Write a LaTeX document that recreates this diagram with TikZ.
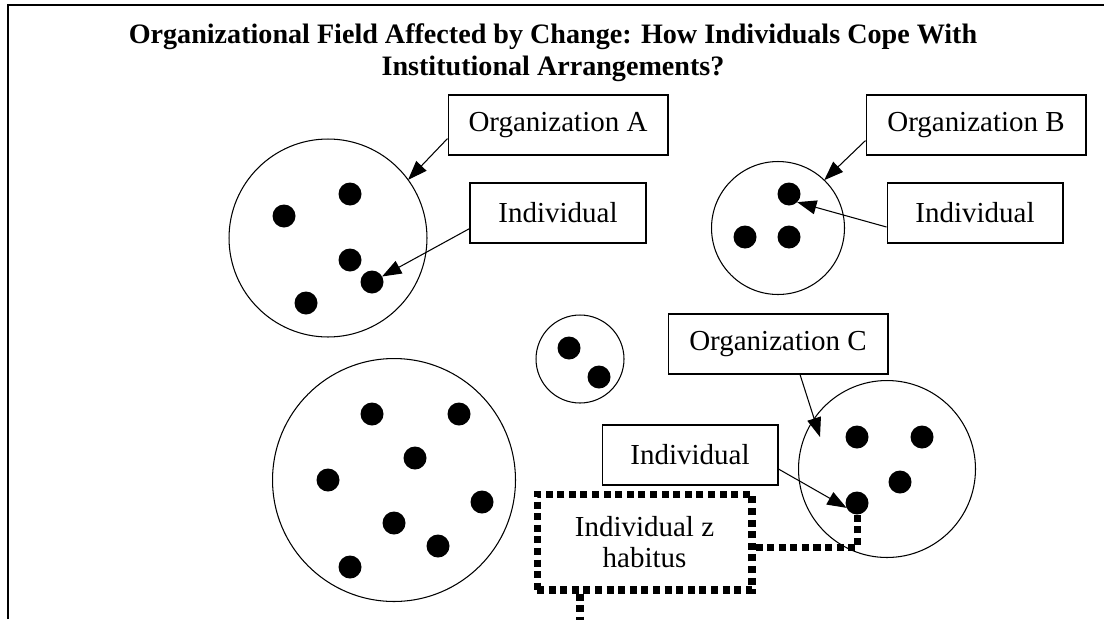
\documentclass[tikz,border=0pt]{standalone}
\usepackage{fontspec}
\setmainfont{Liberation Serif}
\usetikzlibrary{arrows.meta}
\begin{document}
\begin{tikzpicture}[x=0.02cm,y=-0.02cm,
	orgcircle/.style={draw,circle,line width=0.6pt,inner sep=0pt,outer sep=0pt},
	dot/.style={fill,circle,inner sep=0pt,outer sep=0pt,minimum size=0.46cm},
	labelbox/.style={draw,line width=0.6pt,minimum height=1.2cm,font=\fontsize{16.5}{18}\selectfont},
	orgbox/.style={labelbox,minimum width=4.4cm},
	indbox/.style={labelbox,minimum width=3.52cm},
	titletext/.style={anchor=base,inner sep=0pt,font=\fontsize{16}{18}\bfseries\selectfont},
	pointer/.style={-{Triangle[length=11pt,width=8pt]},line width=0.6pt},
	habline/.style={line width=4pt,dash pattern=on 4pt off 2.6pt}]
	\useasboundingbox (0,0) rectangle (1104,619);
	\draw[line width=0.7pt] (8,619) -- (8,5) -- (1104,5);
	\node[titletext] (title1) at (553,43) {Organizational Field Affected by Change: How Individuals Cope With};
	\node[titletext] (title2) at (553,75) {Institutional Arrangements?};
	% organizations
	\node[orgcircle,minimum size=3.96cm] (cA) at (328,238) {};
	\node[orgcircle,minimum size=2.66cm] (cB) at (778,228) {};
	\node[orgcircle,minimum size=1.76cm] (cS) at (580,359) {};
	\node[orgcircle,minimum size=4.86cm] (cL) at (394,480) {};
	\node[orgcircle,minimum size=3.54cm] (cC) at (887,469) {};
	% individuals
	\foreach \p/\n in {(284,216)/dA1,(350,194)/dA2,(350,260)/dA3,(372,282)/dA4,(306,303)/dA5,
		(789,194)/dB1,(745,237)/dB2,(789,237)/dB3,
		(569,348)/dS1,(599,377)/dS2,
		(372,414)/dL1,(459,414)/dL2,(415,458)/dL3,(328,480)/dL4,(482,502)/dL5,(394,523)/dL6,(438,546)/dL7,(350,567)/dL8,
		(857,437)/dC1,(922,437)/dC2,(900,482)/dC3,(857,503)/dC4}
		\node[dot] (\n) at \p {};
	% labels
	\node[orgbox] (orgA) at (558,125) {Organization A};
	\node[indbox] (indA) at (558,213) {Individual};
	\node[orgbox] (orgB) at (976,125) {Organization B};
	\node[indbox] (indB) at (975,213) {Individual};
	\node[orgbox] (orgC) at (778,344) {Organization C};
	\node[indbox] (indC) at (690,455) {Individual};
	\node[draw,habline,minimum width=4.3cm,minimum height=1.92cm,align=center,
		font=\fontsize{16.5}{18}\selectfont] (hab) at (644.5,542) {Individual z\\habitus};
	\coordinate (tipC) at (820,437);
	\coordinate (habout) at (580,630);
	\draw[pointer] (orgA.187) -- (cA.36);
	\draw[pointer] (indA.190) -- (dA4);
	\draw[pointer] (orgB.188) -- (cB.46);
	\draw[pointer] (indB.189) -- (dB1.south east);
	\draw[pointer] (orgC.south -| 800,0) -- (tipC);
	\draw[pointer] (indC.-9) -- (dC4.205);
	\draw[habline] (hab.-3) -| (dC4);
	\draw[habline] (hab.south -| habout) -- (habout);
\end{tikzpicture}
\end{document}
